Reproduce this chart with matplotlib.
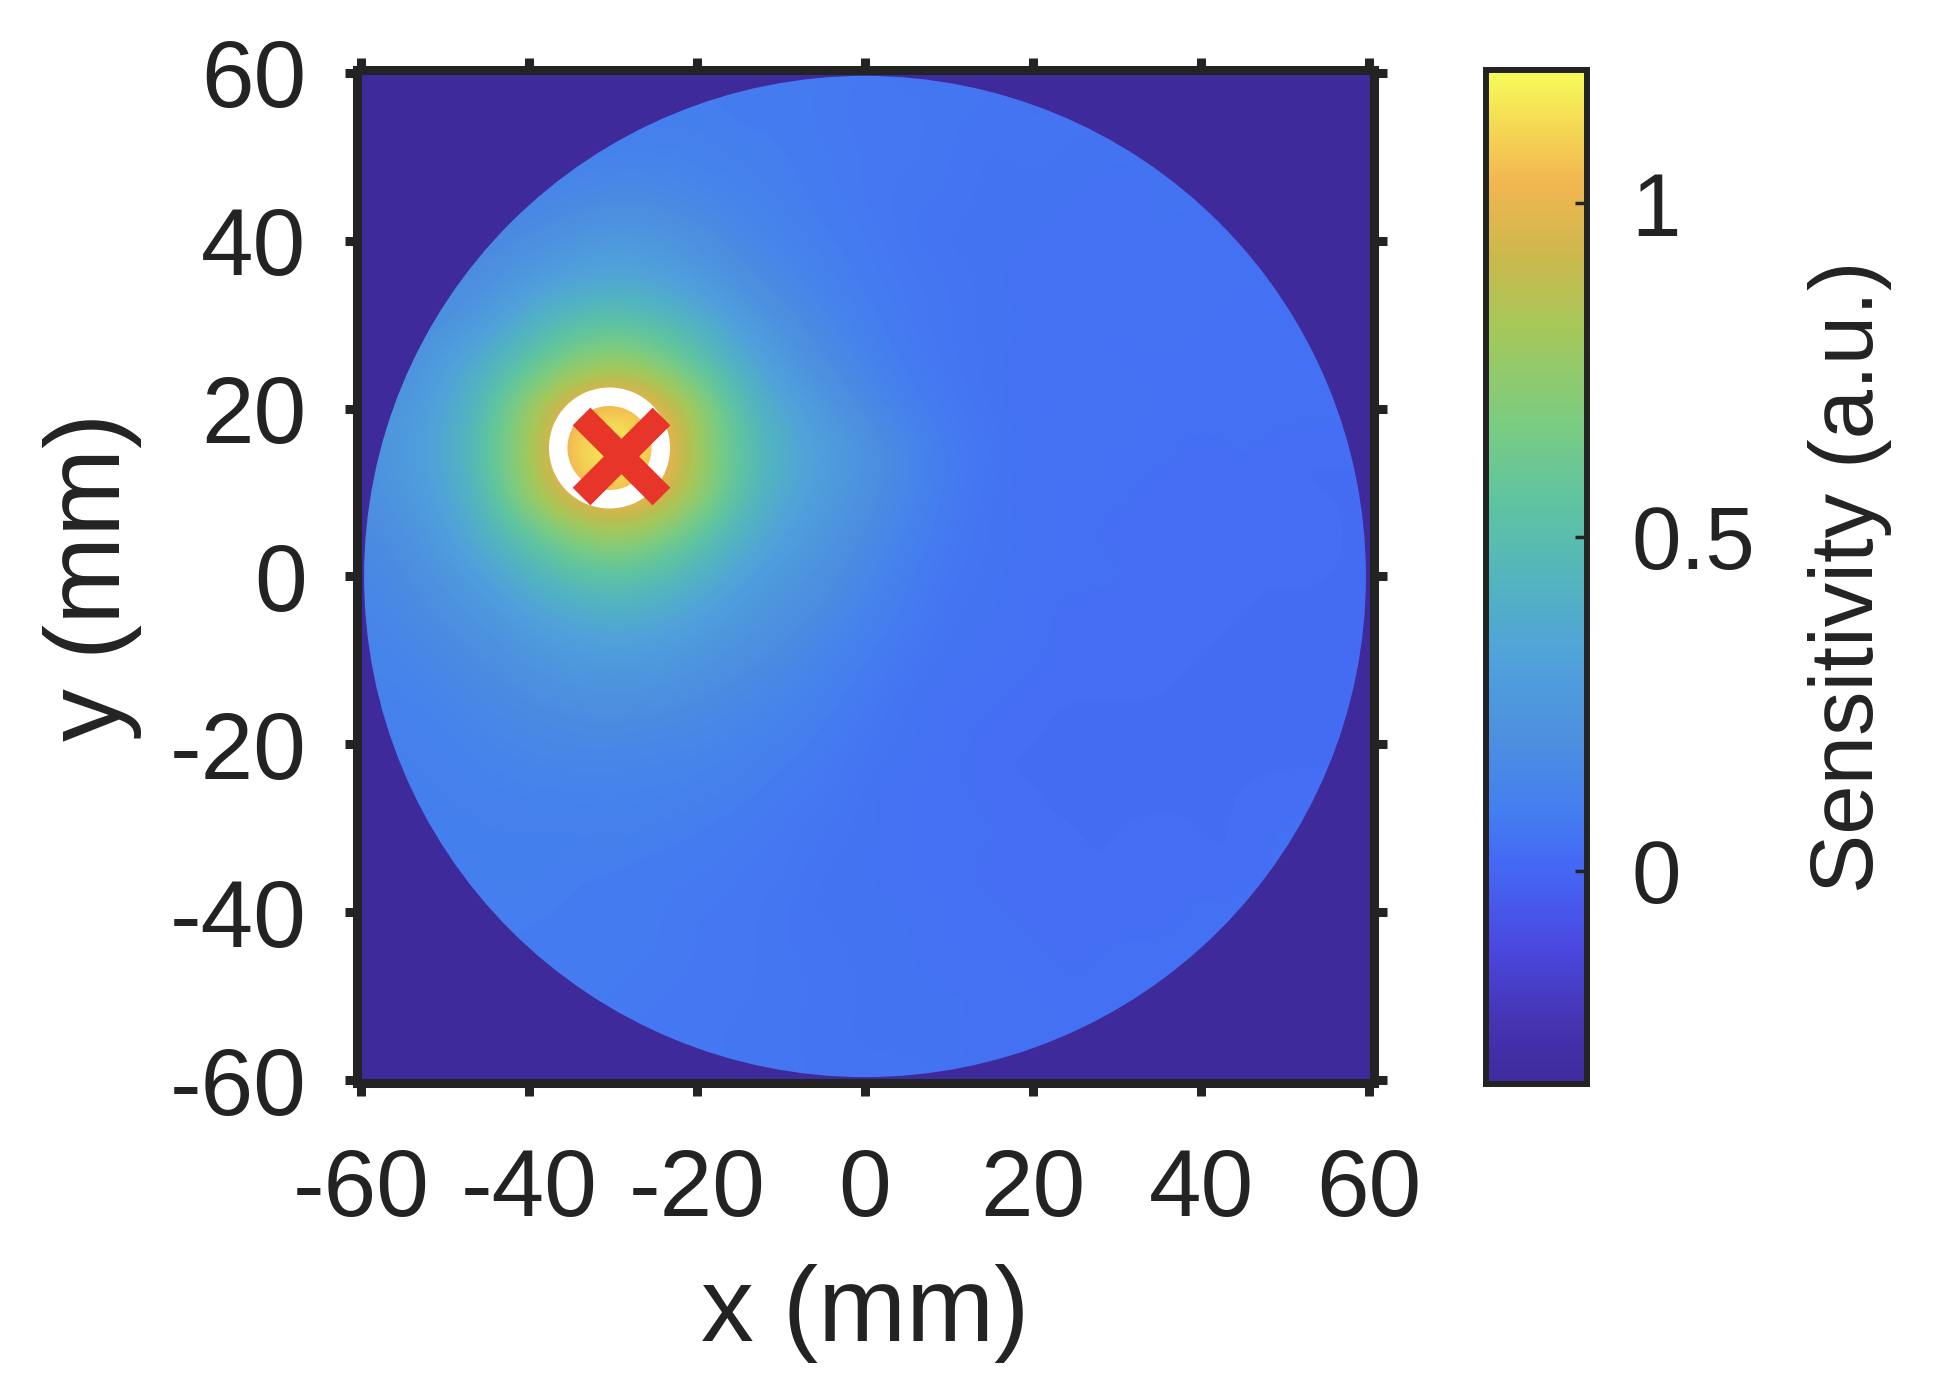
import matplotlib
matplotlib.use("Agg")
import matplotlib.pyplot as plt
import numpy as np
from matplotlib.colors import LinearSegmentedColormap
from matplotlib.patches import Annulus, Circle

plt.rcParams["font.family"] = ["Liberation Sans", "DejaVu Sans"]
plt.rcParams["axes.unicode_minus"] = False

# sensitivity, every 5 mm, top row is y = 60
# (the 1 mm pixel noise of the original is too fine to read, so it is left out)
grid_x = [-60, -55, -50, -45, -40, -35, -30, -25, -20, -15, -10, -5, 0, 5, 10, 15, 20, 25, 30, 35, 40, 45, 50, 55, 60]
grid_y = [60, 55, 50, 45, 40, 35, 30, 25, 20, 15, 10, 5, 0, -5, -10, -15, -20, -25, -30, -35, -40, -45, -50, -55, -60]
sensitivity = [
    [.08, .08, .08, .08, .08, .08, .08, .08, .08, .09, .08, .08, .07, .06, .07, .06, .05, .06, .06, .05, .05, .05, .05, .05, .05],
    [.08, .08, .08, .08, .08, .08, .09, .09, .10, .08, .09, .07, .07, .07, .06, .06, .05, .06, .05, .05, .05, .05, .05, .05, .05],
    [.10, .10, .10, .10, .10, .11, .12, .12, .11, .10, .09, .08, .07, .07, .06, .05, .06, .05, .05, .05, .05, .05, .05, .05, .05],
    [.11, .11, .11, .12, .13, .15, .16, .16, .14, .12, .10, .08, .07, .06, .06, .05, .05, .05, .04, .05, .05, .05, .05, .05, .05],
    [.12, .12, .13, .15, .18, .22, .26, .24, .20, .15, .12, .09, .08, .06, .05, .05, .05, .04, .05, .05, .04, .05, .05, .05, .05],
    [.13, .14, .16, .20, .27, .33, .36, .33, .27, .20, .15, .11, .08, .07, .06, .05, .04, .05, .05, .04, .05, .04, .04, .04, .04],
    [.14, .16, .21, .28, .42, .50, .55, .50, .42, .29, .20, .14, .10, .07, .06, .05, .05, .04, .04, .05, .04, .04, .04, .04, .04],
    [.16, .20, .30, .42, .55, .72, .80, .72, .55, .40, .27, .18, .12, .08, .06, .05, .04, .05, .04, .04, .04, .04, .04, .04, .04],
    [.18, .25, .33, .50, .80, 1.02, 1.12, 1.02, .80, .50, .35, .25, .16, .10, .07, .05, .04, .04, .05, .04, .04, .04, .04, .04, .04],
    [.20, .27, .35, .55, .80, 1.12, 1.20, 1.12, .80, .55, .40, .30, .22, .14, .08, .06, .04, .05, .04, .04, .03, .04, .03, .03, .03],
    [.18, .25, .33, .50, .80, 1.02, 1.12, 1.02, .80, .52, .37, .28, .20, .13, .08, .05, .04, .04, .04, .03, .04, .03, .03, .03, .03],
    [.16, .20, .29, .42, .56, .72, .80, .72, .56, .42, .31, .24, .17, .11, .07, .05, .05, .04, .03, .04, .03, .03, .04, .03, .03],
    [.14, .17, .23, .31, .42, .50, .55, .50, .42, .32, .25, .20, .14, .09, .06, .05, .04, .04, .04, .03, .04, .03, .03, .03, .03],
    [.13, .15, .18, .23, .30, .35, .38, .36, .30, .25, .20, .16, .11, .08, .05, .05, .04, .03, .03, .04, .03, .03, .03, .03, .03],
    [.12, .13, .15, .18, .22, .26, .27, .26, .23, .19, .16, .12, .09, .06, .05, .04, .04, .03, .04, .03, .03, .03, .03, .03, .03],
    [.11, .11, .13, .15, .17, .19, .20, .19, .17, .15, .13, .10, .07, .05, .04, .04, .03, .03, .03, .03, .03, .03, .03, .03, .03],
    [.10, .10, .11, .13, .14, .15, .15, .14, .14, .12, .10, .08, .06, .05, .04, .03, .03, .03, .02, .03, .03, .03, .03, .03, .03],
    [.10, .10, .10, .11, .12, .12, .12, .12, .11, .10, .08, .07, .05, .04, .04, .03, .03, .03, .03, .03, .03, .03, .03, .03, .03],
    [.09, .09, .10, .10, .10, .10, .11, .10, .09, .08, .07, .06, .05, .04, .04, .04, .03, .03, .03, .03, .03, .03, .04, .04, .04],
    [.09, .09, .09, .10, .10, .09, .09, .08, .08, .07, .07, .05, .05, .04, .04, .03, .04, .03, .03, .04, .03, .03, .04, .04, .04],
    [.09, .09, .09, .09, .09, .09, .08, .08, .07, .07, .06, .05, .05, .05, .04, .04, .03, .04, .03, .03, .04, .04, .04, .04, .04],
    [.08, .08, .08, .09, .09, .08, .08, .08, .07, .07, .06, .06, .05, .05, .04, .04, .04, .03, .04, .04, .04, .04, .04, .04, .04],
    [.08, .08, .08, .08, .08, .08, .08, .07, .07, .07, .06, .06, .05, .05, .05, .05, .04, .04, .04, .04, .04, .04, .04, .04, .04],
    [.08, .08, .08, .08, .08, .08, .07, .07, .07, .06, .06, .06, .05, .05, .05, .04, .05, .04, .04, .04, .04, .04, .04, .04, .04],
    [.08, .08, .08, .08, .08, .08, .07, .07, .07, .07, .06, .06, .06, .06, .05, .05, .05, .05, .05, .05, .05, .05, .05, .05, .05],
]

x_ticks = [-60, -40, -20, 0, 20, 40, 60]
y_ticks = [-60, -40, -20, 0, 20, 40, 60]
cbar_ticks = [0, 0.5, 1]
cbar_tick_labels = ["0", "0.5", "1"]

source_x = -29.0
source_y = 14.4
ring_x = -30.4
ring_y = 15.3

# colour bar as it looks in the picture, slightly washed out parula
cmap_pos = [0.0, 0.058, 0.133, 0.215, 0.270, 0.332, 0.413, 0.494, 0.575, 0.655, 0.745, 0.813, 0.889, 0.958, 1.0]
cmap_colors = ["#3f2a9c", "#4533b0", "#4a48e0", "#4468f5", "#447ef0", "#4c8ee0", "#50a0dc", "#52b4c0", "#5fc4a0",
               "#7ccc80", "#a5c85a", "#c9b84d", "#f2b550", "#f5e055", "#f8fc58"]
parula_like = LinearSegmentedColormap.from_list("parula_like", list(zip(cmap_pos, cmap_colors)))

ink = "#232323"
W, H = 1945, 1396
fig = plt.figure(figsize=(W / 100, H / 100), dpi=100)

ax = fig.add_axes([356.5 / W, 1 - 1083 / H, 1017 / W, 1013 / H])
ax.set_facecolor(cmap_colors[0])
im = ax.imshow(sensitivity, extent=[grid_x[0] - 2.5, grid_x[-1] + 2.5, grid_y[-1] - 2.5, grid_y[0] + 2.5],
               cmap=parula_like, vmin=-0.32, vmax=1.2, interpolation="bicubic", aspect="auto")
im.set_clip_path(Circle((0, 0), 59.6, transform=ax.transData))
ax.set_xlim(-60.5, 60.5)
ax.set_ylim(-60.3, 60.3)

ax.add_patch(Annulus((ring_x, ring_y), 7.2, 2.2, facecolor="white", edgecolor="none", zorder=3))
ax.plot([source_x], [source_y], marker="x", markersize=58, markeredgewidth=18, color="#e8352a", zorder=4)

ax.set_xticks(x_ticks)
ax.set_yticks(y_ticks)
ax.tick_params(axis="both", direction="out", length=9, width=6.5, color=ink, labelcolor=ink,
               labelsize=68, top=True, right=True)
ax.tick_params(axis="x", pad=37)
ax.tick_params(axis="y", pad=27)
for spine in ax.spines.values():
    spine.set_linewidth(6.5)
    spine.set_color(ink)
ax.set_xlabel("x (mm)", fontsize=76, color=ink, labelpad=20)
ax.set_ylabel("y (mm)", fontsize=76, color=ink, labelpad=20)

cax = fig.add_axes([1486 / W, 1 - 1084 / H, 101 / W, 1014 / H])
cbar = fig.colorbar(im, cax=cax)
cbar.set_ticks(cbar_ticks)
cbar.set_ticklabels(cbar_tick_labels)
cax.tick_params(axis="y", direction="in", length=9, width=2.5, color=ink, labelcolor=ink, labelsize=64, pad=32)
cbar.outline.set_linewidth(4.3)
cbar.outline.set_edgecolor(ink)
cbar.set_label("Sensitivity (a.u.)", fontsize=64, color=ink, labelpad=38)

fig.savefig("out.png", dpi=100)
